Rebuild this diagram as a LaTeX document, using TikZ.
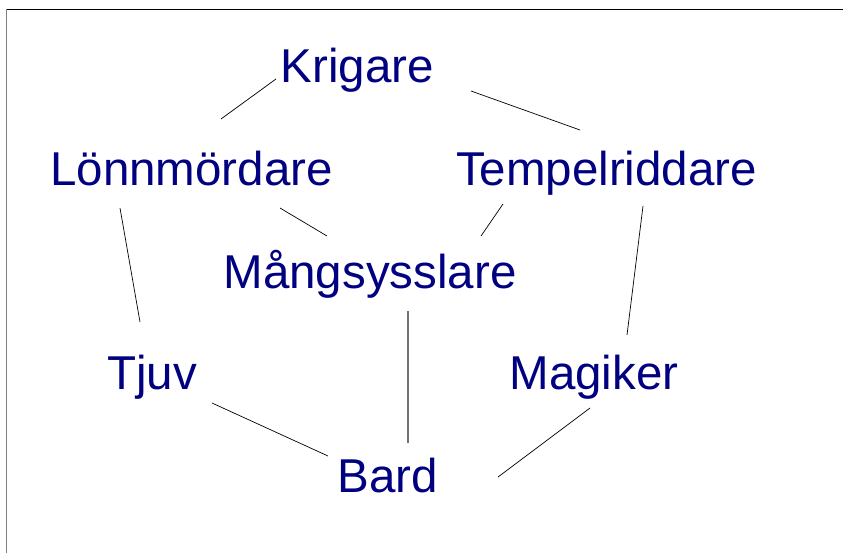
\documentclass[tikz,border=0pt]{standalone}
\usepackage{fontspec}
\setmainfont{Liberation Sans}
\usetikzlibrary{calc}
\definecolor{navytext}{RGB}{0,0,128}
\begin{document}
\begin{tikzpicture}[x=1pt,y=-1pt,
  label/.style={anchor=base,inner sep=0pt,outer sep=0pt,text=navytext,font=\fontsize{47.5}{50}\selectfont},
  edge/.style={draw=black,line width=0.7pt},
  grayedge/.style={draw=black!55,line width=1.4pt}]
\useasboundingbox (0,0) rectangle (843,553);
% frame
\draw[black,line width=1.2pt] (6,9.5) -- (843,9.5);
\draw[black!50,line width=1.4pt] (6.5,9) -- (6.5,553);
% nodes
\node[label] (krig) at (357.5,83) {Krigare};
\node[label] (lonn) at (191.5,186) {Lönnmördare};
\node[label] (temp) at (606.5,186) {Tempelriddare};
\node[label] (mang) at (370,288) {Mångsysslare};
\node[label] (tjuv) at (152,389) {Tjuv};
\node[label] (magi) at (594,389) {Magiker};
\node[label] (bard) at (388,492) {Bard};
% connectors
\draw[edge] ($(krig.base)+(-81.5,-4)$) -- ($(lonn.base)+(29.5,-67)$);
\draw[edge] ($(krig.base)+(113.5,8)$) -- ($(temp.base)+(-26.5,-56)$);
\draw[edge] ($(lonn.base)+(-71.5,22)$) -- ($(tjuv.base)+(-12,-67)$);
\draw[edge] ($(temp.base)+(36.5,20)$) -- ($(magi.base)+(33,-54)$);
\draw[edge] ($(lonn.base)+(88.5,22)$) -- ($(mang.base)+(-43,-52)$);
\draw[edge] ($(temp.base)+(-103.5,18)$) -- ($(mang.base)+(111,-52)$);
\draw[grayedge] ($(mang.base)+(38,23)$) -- ($(bard.base)+(20,-49)$);
\draw[edge] ($(tjuv.base)+(60,14)$) -- ($(bard.base)+(-60,-36)$);
\draw[edge] ($(magi.base)+(-4,19)$) -- ($(bard.base)+(110,-15)$);
\end{tikzpicture}
\end{document}
